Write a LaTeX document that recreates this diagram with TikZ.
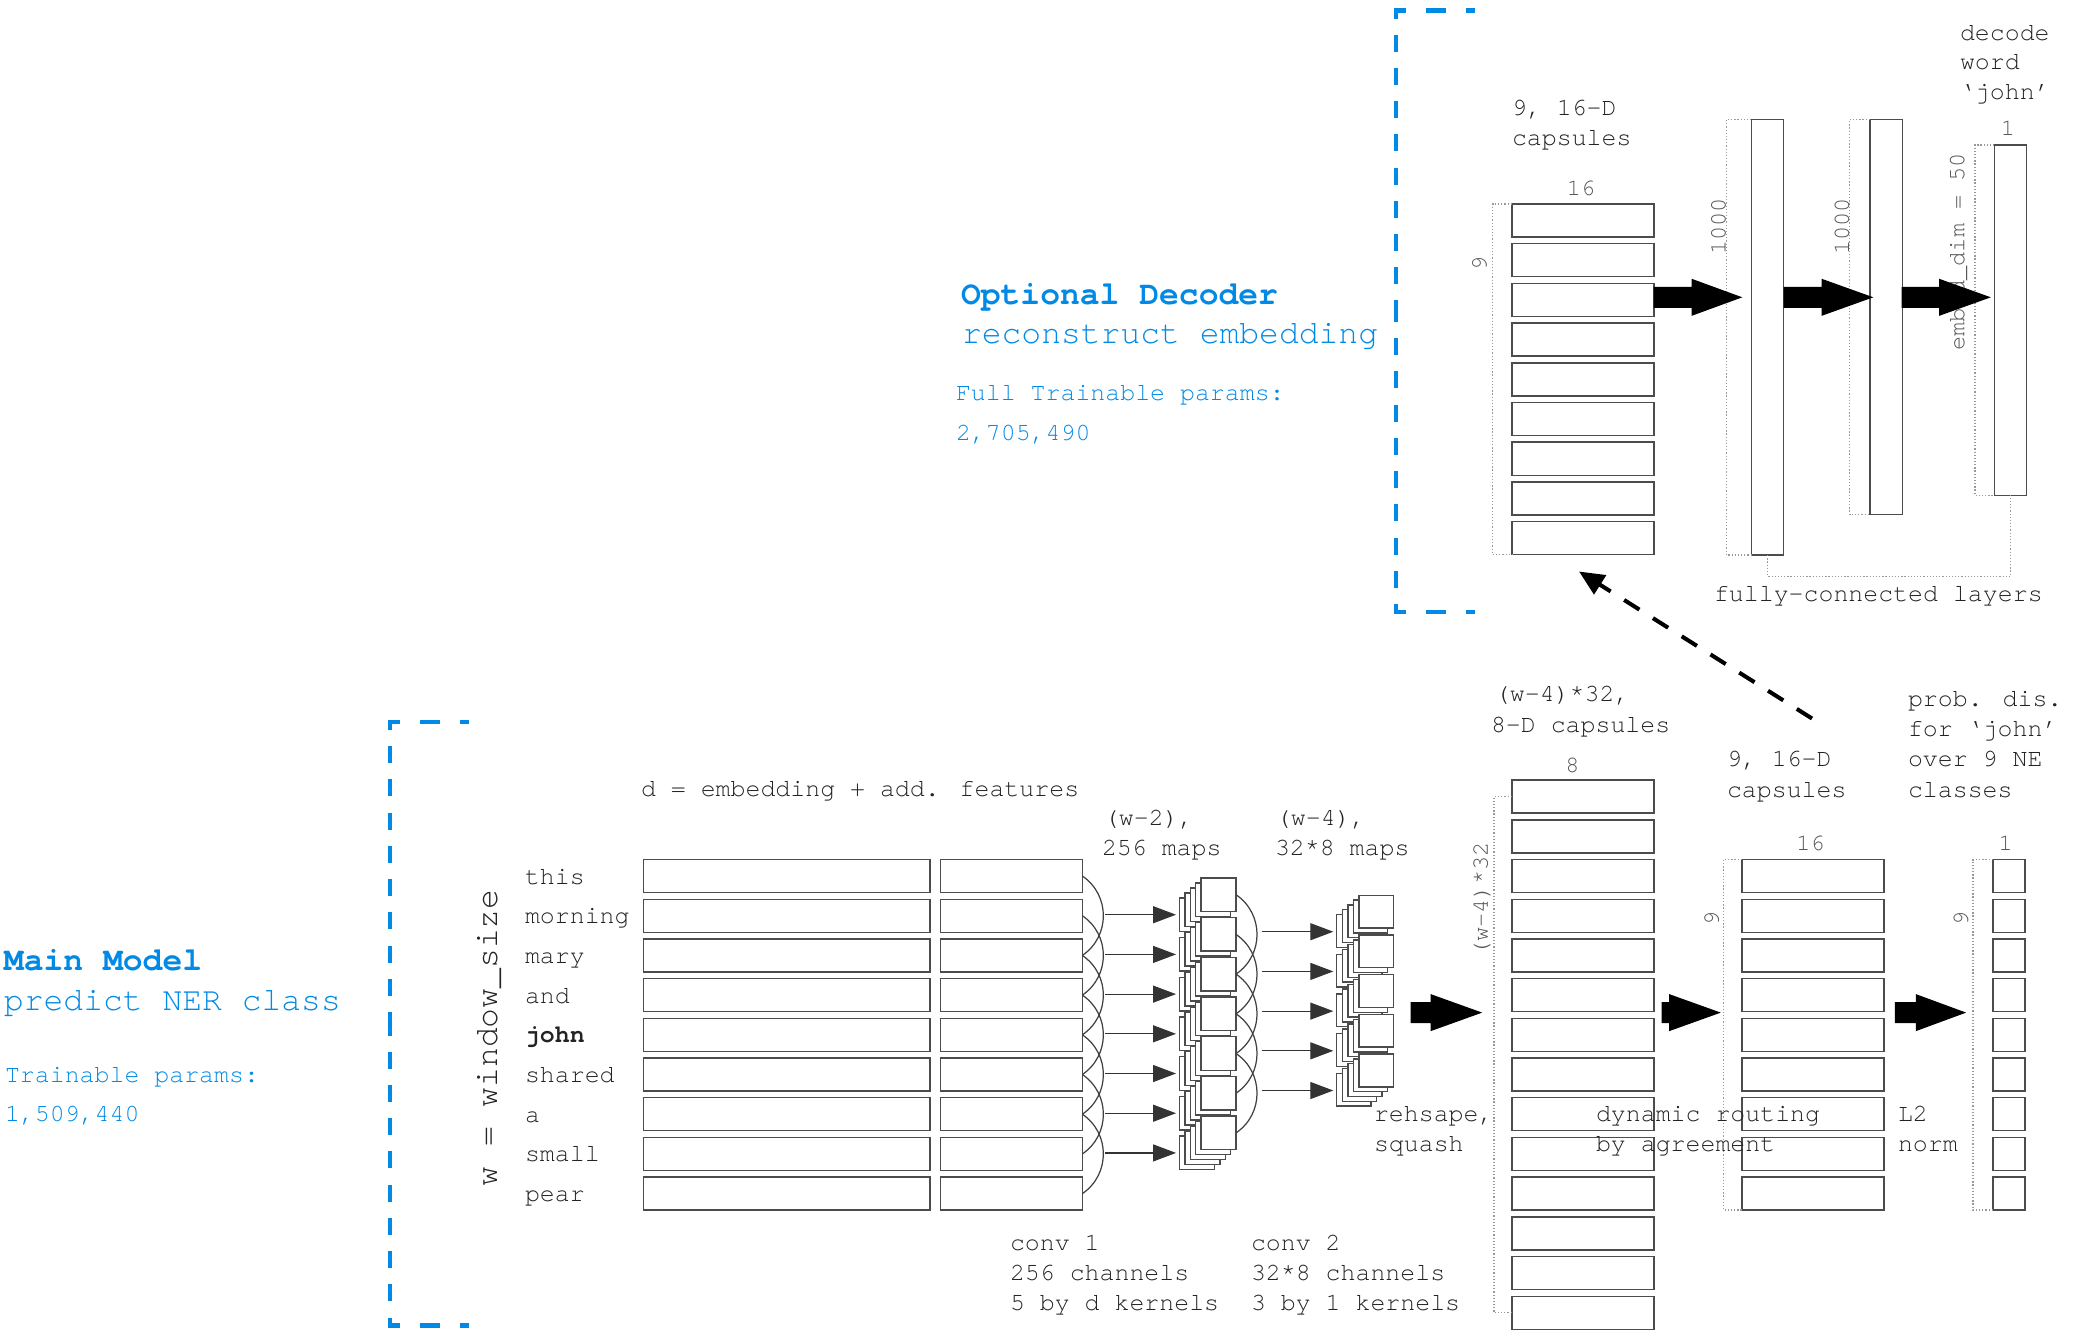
\documentclass[tikz,border=0pt]{standalone}
\usepackage{fontspec}
\setmainfont{TeX Gyre Cursor}
\usetikzlibrary{arrows.meta}
\definecolor{capblue}{RGB}{0,138,230}
\definecolor{txt}{RGB}{35,35,35}
\definecolor{dimc}{RGB}{85,85,85}
\newcommand\fbig{\fontsize{9.39pt}{11pt}\selectfont}
\newcommand\fsmall{\fontsize{7.08pt}{8.5pt}\selectfont}
\newcommand\fdimen{\fontsize{6.7pt}{8pt}\selectfont}
\newcommand\blkarrow[4]{\fill[black] (#1,#4-10.5) -- (#2,#4-10.5) -- (#2,#4-18.5) -- (#3,#4) -- (#2,#4+18.5) -- (#2,#4+10.5) -- (#1,#4+10.5) -- cycle;}
\begin{document}
\begin{tikzpicture}[x=0.01cm,y=-0.01cm,
  every node/.style={inner sep=0pt,outer sep=0pt,text=txt},
  cell/.style={draw=black!70,fill=white,line width=0.4pt},
  lbl/.style={anchor=base west,font=\fsmall},
  bluebig/.style={anchor=base west,font=\fbig,text=capblue},
  bluesmall/.style={anchor=base west,font=\fsmall,text=capblue},
  dimlbl/.style={font=\fdimen,text=dimc},
  brk/.style={draw=black!40,line width=0.4pt,dash pattern=on 0.35pt off 0.55pt},
  thinarr/.style={draw=black!80,line width=0.35pt,-{Triangle[length=2.3mm,width=1.7mm]}},
  conn/.style={draw=black!75,line width=0.35pt},
  bluedash/.style={draw=capblue,line width=1.35pt},
  hdash/.style={bluedash,dash pattern=on 1.2mm off 2mm on 2mm off 2mm on 1mm},
  vdash/.style={bluedash,dash pattern=on 1.7mm off 1.62mm,dash phase=0.9mm},
]
\useasboundingbox (0,0) rectangle (2083,1333);

% ---------- blue brackets ----------
\draw[hdash] (387.5,722) -- (469,722);
\draw[hdash] (387.5,1325.5) -- (469,1325.5);
\draw[vdash] (390,722) -- (390,1024);
\draw[vdash] (390,1325.5) -- (390,1024);
\draw[hdash] (1393.5,10.5) -- (1475,10.5);
\draw[hdash] (1393.5,612) -- (1475,612);
\draw[vdash] (1396,10.5) -- (1396,311);
\draw[vdash] (1396,612) -- (1396,311);

% ---------- blue texts ----------
\node[bluebig] (mm) at (4,970.5) {\textbf{Main Model}};
\node[bluebig] (mm2) at (4,1010.9) {predict NER class};
\node[bluesmall] (mm3) at (5,1082.7) {Trainable params:};
\node[bluesmall] (mm4) at (5,1121.9) {1,509,440};
\node[bluebig] (od) at (961,304) {\textbf{Optional Decoder}};
\node[bluebig] (od2) at (962,343.7) {reconstruct embedding};
\node[bluesmall] (od3) at (956,400.8) {Full Trainable params:};
\node[bluesmall] (od4) at (956,440.8) {2,705,490};

% ---------- input rows ----------
\node[font=\fbig,rotate=90] (wlab) at (489,1038) {w = window\_size};
\node[lbl] (dlab) at (641,796.5) {d = embedding + add. features};
\foreach \w [count=\i from 0] in {this,morning,mary,and,\textbf{john},shared,a,small,pear}{
  \pgfmathsetmacro\yy{876+39.7*\i}
  \node[cell,minimum width=28.67mm,minimum height=3.3mm] (emb\i) at (786.65,\yy) {};
  \node[cell,minimum width=14.16mm,minimum height=3.3mm] (feat\i) at (1011.5,\yy) {};
  \node[lbl] (word\i) at (525,\yy+8) {\w};
}

% ---------- conv1 output stacks ----------
\foreach \j in {0,...,6}{
  \foreach \k in {4,3,2,1,0}{
    \node[cell,minimum width=3.5mm,minimum height=3.35mm] (sa\j-\k) at ({1218.5-5.4*\k},{894.7+39.7*\j+5*\k}) {};
  }
}
% ---------- conv2 output stacks ----------
\foreach \g in {0,...,4}{
  \foreach \k in {4,3,2,1,0}{
    \node[cell,minimum width=3.43mm,minimum height=3.27mm] (sb\g-\k) at ({1376.2-5.6*\k},{911.7+39.7*\g+4.8*\k}) {};
  }
}

% ---------- conv1 arcs and arrows ----------
\foreach \j in {1,...,7}{
  \pgfmathtruncatemacro\ja{\j-1}
  \pgfmathtruncatemacro\jb{\j+1}
  \draw[conn] (feat\ja.east) .. controls +(28,19) and +(28,-19) .. (feat\jb.east);
  \pgfmathsetmacro\ay{876+39.7*\j-1}
  \coordinate (cas\j) at (1105,\ay);
  \coordinate (cae\j) at (1176,\ay);
  \draw[thinarr] (cas\j) -- (cae\j);
}
% ---------- conv2 arcs and arrows ----------
\foreach \j in {1,...,5}{
  \pgfmathtruncatemacro\ja{\j-1}
  \pgfmathtruncatemacro\jb{\j+1}
  \draw[conn] (sa\ja-0.east) .. controls +(28,19) and +(28,-19) .. (sa\jb-0.east);
  \pgfmathsetmacro\ay{894.7+39.7*\j-2.7}
  \coordinate (cbs\j) at (1261.7,\ay);
  \coordinate (cbe\j) at (1333.3,\ay);
  \draw[thinarr] (cbs\j) -- (cbe\j);
}

% ---------- capsule columns ----------
\foreach \k in {0,...,13}{
  \node[cell,minimum width=14.2mm,minimum height=3.3mm] (cap\k) at (1583,{796.6+39.7*\k}) {};
}
\draw[brk] (cap0.west) -- ++(-18,0) |- (cap13.west);
\foreach \i in {0,...,8}{
  \node[cell,minimum width=14.2mm,minimum height=3.3mm] (mc\i) at (1813,{876+39.7*\i}) {};
  \node[cell,minimum width=3.2mm,minimum height=3.3mm] (pc\i) at (2009,{876+39.7*\i}) {};
  \node[cell,minimum width=14.2mm,minimum height=3.3mm] (dc\i) at (1583,{220.5+39.7*\i}) {};
}
\draw[brk] (mc0.north west) -- ++(-18.5,0) |- (mc8.south west);
\draw[brk] (pc0.north west) -- ++(-20,0) |- (pc8.south west);
\draw[brk] (dc0.north west) -- ++(-19.4,0) |- (dc8.south west);

% ---------- decoder FC layers ----------
\node[cell,minimum width=3.23mm,minimum height=43.54mm] (fc1) at (1767.45,337.3) {};
\node[cell,minimum width=3.24mm,minimum height=39.47mm] (fc2) at (1886.2,316.95) {};
\node[cell,minimum width=3.23mm,minimum height=35.02mm] (outl) at (2010.45,320) {};
\draw[brk] (fc1.north west) -- ++(-24.7,0) |- (fc1.south west);
\draw[brk] (fc2.north west) -- ++(-20.5,0) |- (fc2.south west);
\draw[brk] (outl.north west) -- ++(-19.3,0) |- (outl.south west);
\draw[brk] (fc1.south) -- ++(0,21.3) -| (outl.south);

% ---------- labels ----------
\node[lbl] at (1104,825) {(w-2),};
\node[lbl] at (1102,855) {256 maps};
\node[lbl] at (1276,825) {(w-4),};
\node[lbl] at (1275,855) {32*8 maps};
\node[lbl] at (1010,1250.5) {conv 1};
\node[lbl] at (1010,1280) {256 channels};
\node[lbl] at (1010,1310.5) {5 by d kernels};
\node[lbl] at (1251,1250.5) {conv 2};
\node[lbl] at (1251,1280) {32*8 channels};
\node[lbl] at (1251,1310.5) {3 by 1 kernels};
\node[lbl] at (1374,1121.5) {rehsape,};
\node[lbl] at (1374,1151.5) {squash};
\node[lbl] at (1596,1121.5) {dynamic routing};
\node[lbl] at (1596,1151.5) {by agreement};
\node[lbl] at (1898,1121.5) {L2};
\node[lbl] at (1898,1151.5) {norm};
\node[lbl] at (1495,701.5) {(w-4)*32,};
\node[lbl] at (1491,732.5) {8-D capsules};
\node[lbl] at (1727,766) {9, 16-D};
\node[lbl] at (1727,797) {capsules};
\node[lbl] at (1908,706) {prob. dis.};
\node[lbl] at (1908,736.5) {for ‘john’};
\node[lbl] at (1908,766) {over 9 NE};
\node[lbl] at (1908,797) {classes};
\node[lbl] at (1512,115.5) {9, 16-D};
\node[lbl] at (1512,145.5) {capsules};
\node[lbl] at (1960,40) {decode};
\node[lbl] at (1960,69.5) {word};
\node[lbl] at (1960,99) {‘john’};
\node[lbl] at (1714,601.5) {fully-connected layers};

\node[dimlbl,anchor=base] at (1572.5,772) {8};
\node[dimlbl,anchor=base] at (1810.5,850) {16};
\node[dimlbl,anchor=base] at (2005.6,850) {1};
\node[dimlbl,anchor=base] at (1581,195) {16};
\node[dimlbl,anchor=base] at (2007.8,135) {1};
\node[dimlbl,rotate=90] at (1482,899) {(w-4)*32};
\node[dimlbl,rotate=90] at (1711.8,918.8) {9};
\node[dimlbl,rotate=90] at (1961,918.8) {9};
\node[dimlbl,rotate=90] at (1479.6,263) {9};
\node[dimlbl,rotate=90] at (1718.6,226.5) {1000};
\node[dimlbl,rotate=90] at (1841.9,226.5) {1000};
\node[dimlbl,rotate=90] at (1958.5,252) {embed\_dim = 50};

% ---------- block arrows ----------
\blkarrow{1410.5}{1430.7}{1482.2}{1012.6}
\blkarrow{1661.6}{1669.2}{1720.8}{1012.6}
\blkarrow{1894.8}{1915.9}{1966.1}{1012.6}
\blkarrow{1653.5}{1691.7}{1742.3}{297.3}
\blkarrow{1783.6}{1821.7}{1873.3}{297.3}
\blkarrow{1901.5}{1939.2}{1990.8}{297.3}

% ---------- dashed feedback arrow ----------
\coordinate (dsA) at (1812,718.5);
\coordinate (dsB) at (1579,571.5);
\draw[black,line width=1.15pt,dash pattern=on 1.8mm off 1.6mm,-{Triangle[length=2.5mm,width=2.2mm]}] (dsA) -- (dsB);
\end{tikzpicture}
\end{document}
